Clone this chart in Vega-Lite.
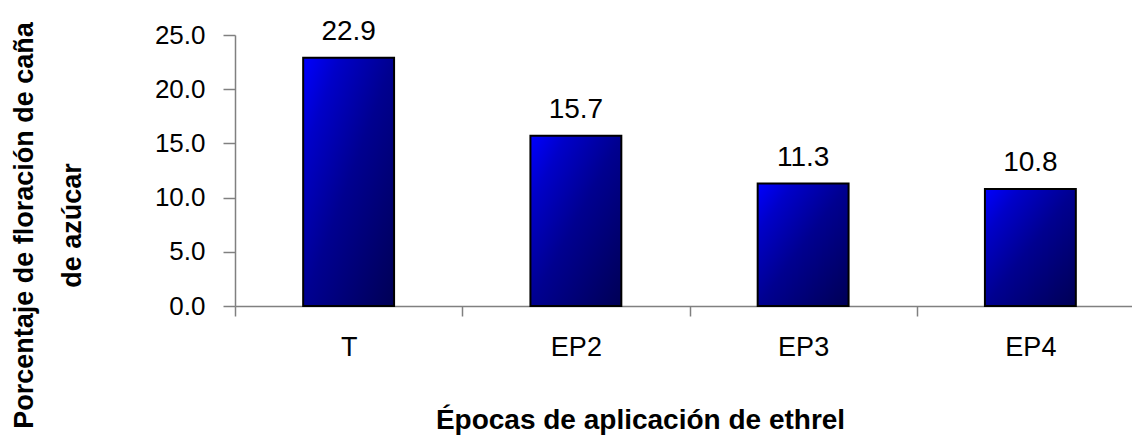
{
  "$schema": "https://vega.github.io/schema/vega-lite/v6.json",
  "autosize": "none",
  "width": 897,
  "height": 271,
  "padding": {"left": 235, "top": 35, "right": 0, "bottom": 133},
  "background": "white",
  "config": {"view": {"stroke": null}, "font": "Liberation Sans"},
  "data": {"values": [
    {"tratamiento": "T", "porcentaje": 22.9},
    {"tratamiento": "EP2", "porcentaje": 15.7},
    {"tratamiento": "EP3", "porcentaje": 11.3},
    {"tratamiento": "EP4", "porcentaje": 10.8}
  ]},
  "encoding": {
    "x": {
      "field": "tratamiento", "type": "nominal", "sort": null,
      "scale": {"range": [0, 909], "paddingInner": 0, "paddingOuter": 0},
      "axis": {
        "title": "Épocas de aplicación de ethrel",
        "titleFont": "Liberation Sans", "titleFontSize": 28, "titleFontWeight": "bold", "titleColor": "black",
        "titleX": 405, "titleY": 122, "titleAnchor": "middle", "titleAlign": "center", "titleBaseline": "alphabetic",
        "labelAngle": 0, "labelFont": "Liberation Sans", "labelFontSize": 27, "labelColor": "black",
        "labelPadding": 18, "labelBaseline": "top",
        "tickBand": "extent", "tickSize": 10, "tickColor": "#808080", "tickWidth": 1.5,
        "domainColor": "#808080", "domainWidth": 1.5
      }
    },
    "y": {
      "field": "porcentaje", "type": "quantitative",
      "scale": {"domain": [0, 25], "nice": false},
      "axis": {
        "values": [0, 5, 10, 15, 20, 25], "format": ".1f", "grid": false,
        "title": ["Porcentaje de floración de caña", "de azúcar"],
        "titleFont": "Liberation Sans", "titleFontSize": 27, "titleFontWeight": "bold", "titleColor": "black",
        "titleLineHeight": 48, "titleAngle": -90, "titleX": -211, "titleY": 190,
        "titleAlign": "center", "titleBaseline": "middle", "titleAnchor": "middle",
        "labelFont": "Liberation Sans", "labelFontSize": 26, "labelColor": "black", "labelPadding": 18,
        "tickSize": 12, "tickColor": "#808080", "tickWidth": 1.5,
        "domainColor": "#808080", "domainWidth": 1.5
      }
    }
  },
  "layer": [
    {
      "mark": {
        "type": "bar", "stroke": "black", "strokeWidth": 2, "width": {"band": 0.4},
        "fill": {"gradient": "linear", "x1": 0, "y1": 0, "x2": 1, "y2": 1,
          "stops": [{"offset": 0, "color": "#0000FF"}, {"offset": 0.2, "color": "#0000C8"}, {"offset": 0.5, "color": "#000090"}, {"offset": 1, "color": "#000055"}]}
      }
    },
    {
      "mark": {"type": "text", "baseline": "alphabetic", "dy": -18, "fontSize": 28, "font": "Liberation Sans", "color": "black"},
      "encoding": {"text": {"field": "porcentaje", "type": "quantitative", "format": ".1f"}}
    }
  ]
}
